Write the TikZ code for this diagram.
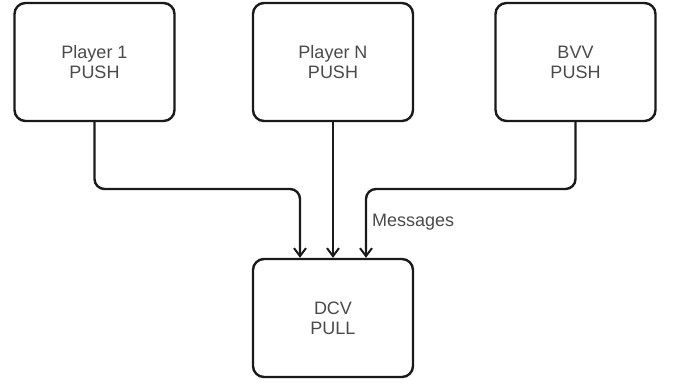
\documentclass[tikz,border=0pt]{standalone}
\usepackage{fontspec}
\setmainfont{Liberation Sans}
\usetikzlibrary{arrows.meta}
\definecolor{txt}{HTML}{4A4A4A}
\definecolor{edge}{HTML}{1A1A1A}
\tikzset{
  px/.style={x=1pt,y=-1pt},
  actor/.style={draw=edge, line width=2.4pt, rounded corners=11pt, fill=white,
    minimum width=160pt, minimum height=118pt, inner sep=0pt,
    align=center, text=txt, font=\fontsize{18}{20}\selectfont},
  flow/.style={draw=edge, line width=2.4pt, rounded corners=10pt,
    -{Straight Barb[length=8pt,width=12pt,line width=2pt]}},
  lbl/.style={text=txt, font=\fontsize{18}{20}\selectfont, inner sep=0pt}
}
\begin{document}
\begin{tikzpicture}[px]
  \useasboundingbox (0,0) rectangle (673,383);
  \node[actor] (p1)  at (94.5,62) {Player 1\\PUSH};
  \node[actor] (pn)  at (333,62)  {Player N\\PUSH};
  \node[actor] (bvv) at (575.5,62) {BVV\\PUSH};
  \node[actor] (dcv) at (333,318)   {DCV\\PULL};

  % bend points of the two side connectors
  \coordinate (jL) at (300,189);
  \coordinate (jR) at (366,189);

  \draw[flow] (p1.south) |- (jL) -- (dcv.north -| jL);
  \draw[flow] (pn.south) -- (dcv.north);
  \draw[flow] (bvv.south) |- (jR) -- (dcv.north -| jR);
  \node[lbl, anchor=west] (msg) at (372,222) {Messages};
\end{tikzpicture}
\end{document}
